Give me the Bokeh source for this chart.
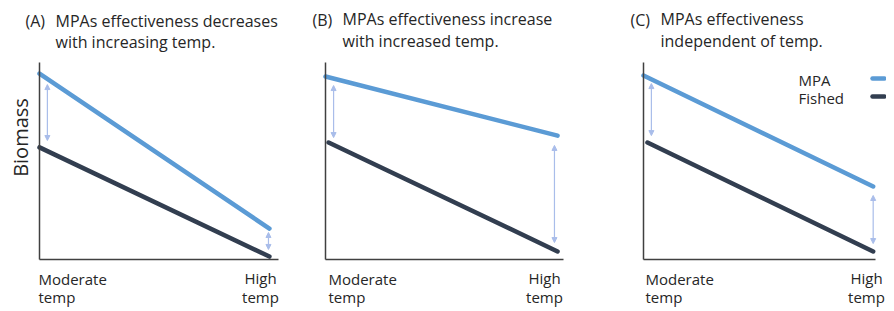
import math
from bokeh.plotting import figure
from bokeh.models import Label, Arrow, NormalHead, ColumnDataSource, FixedTicker, LinearAxis, Range1d
from bokeh.layouts import row
from bokeh.embed import file_html
from bokeh.resources import INLINE

# ---------------- data ----------------
panel_ids = ["(A)", "(B)", "(C)"]
title_line1 = ["MPAs effectiveness decreases", "MPAs effectiveness increase", "MPAs effectiveness"]
title_line2 = ["with increasing temp.", "with increased temp.", "independent of temp."]
low_label = ["Moderate", "temp"]
high_label = ["High", "temp"]
y_axis_label = "Biomass"
series_names = ["MPA", "Fished"]

# conceptual lines (x: 0 = moderate temp, ~1 = high temp; y: relative biomass)
mpa_x = [[0.0, 0.962], [0.0, 0.975], [0.0, 0.99]]
mpa_y = [[0.944, 0.157], [0.929, 0.629], [0.934, 0.371]]
fished_x = [[0.0, 0.962], [0.013, 0.975], [0.017, 0.99]]
fished_y = [[0.569, 0.015], [0.594, 0.041], [0.594, 0.041]]

# double-headed "effect" arrows between the lines
gap_x = [[0.033, 0.958], [0.034, 0.962], [0.034, 0.99]]
gap_top = [[0.888, 0.137], [0.883, 0.579], [0.893, 0.325]]
gap_bottom = [[0.604, 0.051], [0.619, 0.086], [0.629, 0.081]]

# ---------------- style / layout ----------------
FONT = "Open Sans"
MPA_COLOR = "#5B9BD5"
FISHED_COLOR = "#323E50"
ARROW_COLOR = "#A9BDEA"
AXIS_COLOR = "#404040"
TEXT_COLOR = "#262626"

H = 308
# page-pixel boxes: (fig_left, fig_width, axis_left, axis_right, axis_top, axis_bottom)
boxes = [
    (0, 292, 39, 278, 62, 259),
    (292, 300, 325, 563, 62, 259),
    (592, 294, 643, 875, 62, 259),
]
title_pos = [
    ((25, 20), (55, 20), (55, 41)),
    ((312, 19), (342, 18), (342, 40)),
    ((630, 19), (660, 18), (660, 40)),
]
low_pos = [(38, 278, 296), (328, 278, 296), (645, 278, 296)]
high_pos = [(260, 277, 296), (544, 277, 296), (866, 277, 296)]


def to_data(box, px, py):
    _, _, al, ar, at, ab = box
    return (px - al) / (ar - al), (ab - py) / (ab - at)


figs = []
for i in range(3):
    box = boxes[i]
    fig_left, fig_w = box[0], box[1]
    x0, y1 = to_data(box, fig_left, 0)
    x1, y0 = to_data(box, fig_left + fig_w, H)
    p = figure(width=fig_w, height=H, x_range=Range1d(x0, x1), y_range=Range1d(y0, y1),
               output_backend="svg", toolbar_location=None,
               x_axis_location=None, y_axis_location=None,
               min_border=0)
    p.outline_line_color = None
    p.grid.visible = False
    p.background_fill_color = "white"
    p.border_fill_color = "white"

    xax = LinearAxis(fixed_location=0, bounds=(0, 1))
    yax = LinearAxis(fixed_location=0, bounds=(0, 1))
    for ax in (xax, yax):
        ax.ticker = FixedTicker(ticks=[])
        ax.major_label_text_font_size = "0px"
        ax.major_tick_line_color = None
        ax.minor_tick_line_color = None
        ax.axis_line_color = AXIS_COLOR
        ax.axis_line_width = 1.5
    p.add_layout(xax, "below")
    p.add_layout(yax, "left")

    p.line(mpa_x[i], mpa_y[i], line_color=MPA_COLOR, line_width=4.5, line_cap="round")
    p.line(fished_x[i], fished_y[i], line_color=FISHED_COLOR, line_width=4.5, line_cap="round")

    src = ColumnDataSource(dict(x=gap_x[i], top=gap_top[i], bottom=gap_bottom[i]))
    p.add_layout(Arrow(
        start=NormalHead(size=5, fill_color=ARROW_COLOR, line_color=ARROW_COLOR, line_width=1),
        end=NormalHead(size=5, fill_color=ARROW_COLOR, line_color=ARROW_COLOR, line_width=1),
        x_start="x", y_start="top", x_end="x", y_end="bottom", source=src,
        line_color=ARROW_COLOR, line_width=1.2))

    # titles
    (idp, l1p, l2p) = title_pos[i]
    for (px, py), txt in ((idp, panel_ids[i]), (l1p, title_line1[i]), (l2p, title_line2[i])):
        x, y = to_data(box, px, py)
        p.add_layout(Label(x=x, y=y, text=txt, text_font=FONT, text_font_size="16px",
                           text_color=TEXT_COLOR, text_align="left", text_baseline="middle"))

    # x-end labels
    lx, ly1, ly2 = low_pos[i]
    for py, txt in ((ly1, low_label[0]), (ly2, low_label[1])):
        x, y = to_data(box, lx, py)
        p.add_layout(Label(x=x, y=y, text=txt, text_font=FONT, text_font_size="15px",
                           text_color=TEXT_COLOR, text_align="left", text_baseline="middle"))
    hx, hy1, hy2 = high_pos[i]
    for py, txt in ((hy1, high_label[0]), (hy2, high_label[1])):
        x, y = to_data(box, hx, py)
        p.add_layout(Label(x=x, y=y, text=txt, text_font=FONT, text_font_size="15px",
                           text_color=TEXT_COLOR, text_align="center", text_baseline="middle"))

    if i == 0:
        x, y = to_data(box, 20, 137)
        p.add_layout(Label(x=x, y=y, text=y_axis_label, angle=math.pi / 2,
                           text_font=FONT, text_font_size="20px", text_color=TEXT_COLOR,
                           text_align="center", text_baseline="middle"))
    if i == 2:
        for (ty, name, col) in ((79, series_names[0], MPA_COLOR), (97, series_names[1], FISHED_COLOR)):
            x, y = to_data(box, 798, ty)
            p.add_layout(Label(x=x, y=y, text=name, text_font=FONT, text_font_size="15px",
                               text_color=TEXT_COLOR, text_align="left", text_baseline="middle"))
            xs, ys = to_data(box, 872, ty - 1)
            xe, _ = to_data(box, 884, ty - 1)
            p.add_layout(Arrow(start=None, end=None, x_start=xs, y_start=ys, x_end=xe, y_end=ys,
                               line_color=col, line_width=4.5, line_cap="round"))
    figs.append(p)

layout = row(*figs, spacing=0)
open("out.html", "w").write(file_html(layout, INLINE))
